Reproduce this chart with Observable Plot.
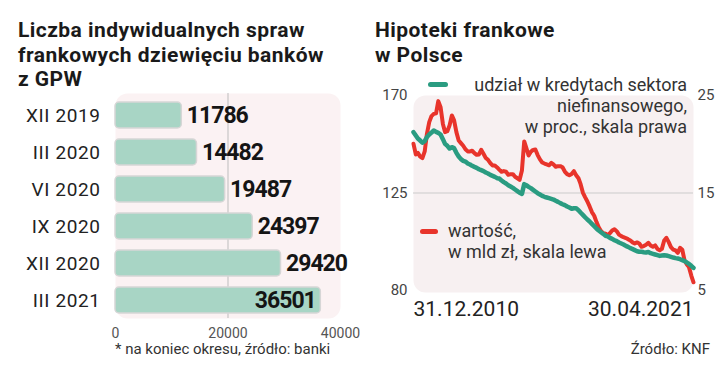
<!DOCTYPE html>
<html><head><meta charset="utf-8">
<script src="https://cdn.jsdelivr.net/npm/d3@7"></script>
<script src="https://cdn.jsdelivr.net/npm/@observablehq/plot@0.6"></script>
<style>
html,body{margin:0;padding:0;background:#fff;}
#wrap{position:relative;width:721px;height:382px;overflow:hidden;font-family:Roboto,"Noto Sans",sans-serif;background:#fff;}
.abs{position:absolute;white-space:nowrap;}
.title{font-weight:700;font-size:21px;line-height:24.6px;color:#1a1a1a;letter-spacing:0.45px;}
.leg{font-size:18px;line-height:21.2px;color:#333;}
.note{font-size:15px;line-height:17.6px;color:#333;}
.sw{position:absolute;height:5px;border-radius:3px;}
#left,#right{position:absolute;top:80px;}
#left{left:0;} #right{left:360px;}
#left g[aria-label="text"] text{letter-spacing:-1px;}
#left g[aria-label="y-axis tick label"] text{letter-spacing:0.6px;}
</style>
</head><body>
<div id="wrap">
  <div class="abs title" style="left:18px;top:18px;">Liczba indywidualnych spraw<br>frankowych dziewięciu banków<br>z GPW</div>
  <div class="abs title" style="left:375px;top:18px;">Hipoteki frankowe<br>w Polsce</div>
  <div id="left"></div>
  <div id="right"></div>
  <div class="sw" style="left:428px;top:82px;width:20px;background:#2a9c81;"></div>
  <div class="abs leg" style="right:34px;top:74px;text-align:right;">udział w kredytach sektora<br>niefinansowego,<br>w proc., skala prawa</div>
  <div class="sw" style="left:420px;top:229px;width:18px;background:#e8342b;"></div>
  <div class="abs leg" style="left:448px;top:220px;">wartość,<br>w mld zł, skala lewa</div>
  <div class="abs note" style="left:115px;top:341px;">* na koniec okresu, źródło: banki</div>
  <div class="abs note" style="right:11px;top:341px;">Źródło: KNF</div>
</div>
<script>
// ---- Bar chart data ----
const periods = ["XII 2019", "III 2020", "VI 2020", "IX 2020", "XII 2020", "III 2021"];
const cases = [11786, 14482, 19487, 24397, 29420, 36501];
const barTicks = [0, 20000, 40000];

// ---- Line chart data (monthly, end of month, 31.12.2010 – 30.04.2021) ----
const firstMonthEnd = "2010-12-31";
const lastMonthEnd = "2021-04-30";
// wartość, mld zł (left scale)
const valueBn = [
  147.7, 142.8, 143.5, 141.8, 141.1, 144.2, 152.3, 157.7, 160.5, 161.5,
  161.8, 167.4, 164.6, 156.9, 153.1, 153.5, 156.2, 160.8, 158.5, 153.1,
  149.2, 148.0, 146.8, 145.2, 144.2, 144.2, 144.5, 143.4, 142.6, 142.8,
  144.9, 143.1, 141.2, 140.3, 138.8, 137.7, 137.7, 136.8, 135.8, 134.8,
  135.1, 134.8, 133.4, 133.7, 133.7, 132.5, 131.8, 131.1, 135.4, 148.8,
  145.8, 142.3, 144.0, 144.9, 145.1, 142.5, 140.5, 139.1, 138.6, 138.2,
  137.8, 138.9, 138.2, 137.1, 137.4, 137.4, 136.9, 134.9, 133.7, 133.2,
  133.8, 135.1, 133.2, 131.8, 129.2, 125.2, 123.1, 121.1, 118.8, 116.2,
  114.5, 111.7, 109.2, 107.5, 106.5, 106.2, 105.5, 106.5, 107.7, 108.3,
  107.4, 105.8, 105.1, 104.6, 104.2, 103.7, 103.1, 102.2, 101.7, 102.2,
  101.7, 100.2, 100.5, 101.1, 102.0, 100.8, 100.2, 100.8, 99.2, 98.6,
  99.2, 103.1, 104.3, 102.3, 100.0, 98.9, 98.5, 97.4, 99.7, 98.8,
  93.8, 92.0, 90.8, 86.9, 83.8
];
// udział w kredytach sektora niefinansowego, % (right scale)
const sharePct = [
  21.24, 20.90, 20.59, 20.38, 20.15, 20.32, 20.73, 21.00, 21.20, 21.41,
  21.27, 21.17, 21.00, 20.52, 20.04, 19.84, 19.56, 19.70, 19.60, 19.12,
  18.74, 18.47, 18.30, 18.22, 18.03, 17.92, 17.79, 17.68, 17.58, 17.44,
  17.34, 17.24, 17.10, 17.00, 16.86, 16.76, 16.66, 16.52, 16.48, 16.28,
  16.11, 15.97, 15.80, 15.67, 15.53, 15.36, 15.19, 15.02, 14.91, 15.91,
  15.80, 15.63, 15.50, 15.32, 15.15, 14.98, 14.85, 14.71, 14.61, 14.54,
  14.47, 14.40, 14.33, 14.20, 14.09, 13.96, 13.85, 13.75, 13.61, 13.51,
  13.38, 13.44, 13.44, 13.24, 13.00, 12.76, 12.52, 12.28, 12.08, 11.84,
  11.60, 11.36, 11.15, 10.98, 10.81, 10.61, 10.55, 10.40, 10.30, 10.16,
  10.06, 9.92, 9.82, 9.72, 9.58, 9.48, 9.34, 9.24, 9.14, 9.03,
  8.97, 8.97, 8.93, 8.90, 8.95, 8.83, 8.76, 8.69, 8.62, 8.55,
  8.59, 8.62, 8.59, 8.52, 8.45, 8.38, 8.32, 8.28, 8.21, 8.11,
  8.01, 7.87, 7.73, 7.53, 7.32
];
const leftTicks = [80, 125, 170];
const rightTicks = [5, 15, 25];

// ---- Build ----
const barData = periods.map((p, i) => ({p, v: cases[i], i}));
const FONT = "Roboto, 'Noto Sans', sans-serif";

const left = Plot.plot({
  width: 360, height: 265,
  marginLeft: 115, marginRight: 20, marginTop: 14.5, marginBottom: 25.5,
  style: {background: "transparent", overflow: "visible", fontFamily: FONT},
  x: {domain: [barTicks[0], barTicks[barTicks.length - 1]], label: null},
  y: {domain: periods, paddingInner: 0.3, paddingOuter: 0.15, label: null},
  marks: [
    Plot.frame({fill: "#fbf2f3", stroke: null, rx: 12, insetTop: -1.5, insetBottom: 1.5}),
    Plot.ruleX([barTicks[1]], {stroke: "#bdbdbd", strokeWidth: 1, insetTop: -1.5, insetBottom: 1.5}),
    Plot.barX(barData, {x: "v", y: "p", fill: "#a8d5c5", stroke: "#d6d6d6", strokeWidth: 1.5, rx: 4}),
    Plot.text(barData.filter(d => d.i < barData.length - 1), {x: "v", y: "p", text: d => String(d.v), textAnchor: "start", dx: 5, fontSize: 23, fontWeight: 700, fill: "#151515"}),
    Plot.text(barData.filter(d => d.i === barData.length - 1), {x: "v", y: "p", text: d => String(d.v), textAnchor: "end", dx: -5, fontSize: 23, fontWeight: 700, fill: "#151515"}),
    Plot.axisY({tickSize: 0, tickPadding: 15, fontSize: 19, fill: "#222", label: null}),
    Plot.axisX({ticks: barTicks, tickSize: 0, tickPadding: 8, fontSize: 14, fill: "#555", tickFormat: d3.format("d"), label: null})
  ]
});
document.getElementById("left").appendChild(left);

const start = d3.utcParse("%Y-%m-%d")(firstMonthEnd);
const end = d3.utcParse("%Y-%m-%d")(lastMonthEnd);
const dates = d3.utcMonth.range(d3.utcDay.offset(start, 1), d3.utcDay.offset(end, 2)).map(d => d3.utcDay.offset(d, -1));
const redData = valueBn.map((v, i) => ({date: dates[i], v}));
const tealData = sharePct.map((v, i) => ({date: dates[i], v}));
// right scale (5–25 %) mapped onto left scale (80–170 mld zł)
const r2l = d3.scaleLinear().domain([rightTicks[0], rightTicks[2]]).range([leftTicks[0], leftTicks[2]]);
const fmtDate = d3.utcFormat("%d.%m.%Y");

const right = Plot.plot({
  width: 361, height: 245,
  marginLeft: 53, marginRight: 28, marginTop: 15, marginBottom: 35,
  style: {background: "transparent", overflow: "visible", fontFamily: FONT},
  x: {type: "utc", domain: [start, end], label: null},
  y: {domain: [leftTicks[0], leftTicks[2]], label: null},
  marks: [
    Plot.frame({fill: "#f7f0f1", stroke: null, rx: 12, insetBottom: -2}),
    Plot.ruleY([leftTicks[1]], {stroke: "#cbcbcb", strokeWidth: 1}),
    Plot.lineY(redData, {x: "date", y: "v", stroke: "#e8342b", strokeWidth: 4}),
    Plot.lineY(tealData, {x: "date", y: d => r2l(d.v), stroke: "#2a9c81", strokeWidth: 4.5}),
    Plot.axisY({ticks: leftTicks, tickSize: 0, tickPadding: 6, fontSize: 15, fill: "#444", label: null}),
    Plot.axisY({anchor: "right", ticks: leftTicks, tickFormat: d => String(Math.round(r2l.invert(d))), tickSize: 0, tickPadding: 4, fontSize: 15, fill: "#444", label: null}),
    Plot.axisX({ticks: [start], tickFormat: fmtDate, textAnchor: "start", tickSize: 0, tickPadding: 11, fontSize: 21, fill: "#222", label: null}),
    Plot.axisX({ticks: [end], tickFormat: fmtDate, textAnchor: "end", tickSize: 0, tickPadding: 11, fontSize: 21, fill: "#222", label: null})
  ]
});
document.getElementById("right").appendChild(right);
</script>
</body></html>
